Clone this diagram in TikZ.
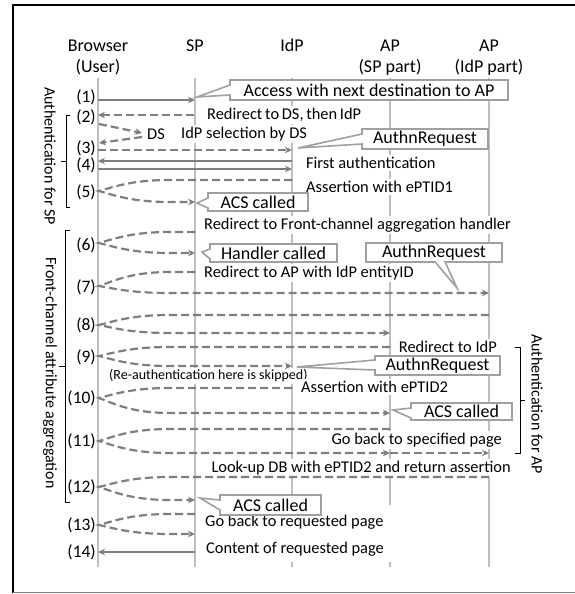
\documentclass[tikz,border=0pt]{standalone}
\usepackage{fontspec}
\setmainfont{Carlito}
\usetikzlibrary{shapes.callouts,arrows.meta,calc}
\definecolor{lifegray}{HTML}{BFBFBF}
\definecolor{arrgray}{HTML}{7F7F7F}
\definecolor{boxgray}{HTML}{A0A0A0}
\newcommand\myfs[1]{\fontsize{#1}{#1}\selectfont}
\newcommand\loopmsg[3]{%
  \draw[dashmsg] let \p1=(#1), \p2=(#2), \p3=(#3) in
    (#1) -- (170pt,\y1) .. controls (132pt,\y1) and (115pt,{\y3+0.4*(\y1-(\y3))}) .. (#3)
    .. controls (115pt,{\y3+0.4*(\y2-(\y3))}) and (132pt,\y2) .. (170pt,\y2) -- (#2);}
\begin{document}
\begin{tikzpicture}[x=1pt,y=-1pt,
  hdr/.style={font=\myfs{18}, inner sep=0pt, anchor=base},
  num/.style={anchor=east, font=\myfs{17.5}, inner sep=0pt},
  lbl/.style={fill=white, inner xsep=1pt, inner ysep=2pt, font=\myfs{16.4}},
  note/.style={lbl, font=\myfs{14}},
  cbox/.style={rectangle callout, draw=boxgray, line width=1.6pt, fill=white, inner sep=0pt,
    font=\myfs{18}, callout pointer width=10pt},
  life/.style={draw=lifegray, line width=2.6pt},
  solidmsg/.style={draw=arrgray, line width=2.2pt, -{Stealth[length=7pt,width=6.5pt]}},
  dashmsg/.style={solidmsg, dash pattern=on 8pt off 4pt},
  brk/.style={draw=black, line width=0.8pt},
  vlab/.style={rotate=-90, font=\myfs{16}, inner sep=0pt}]
\useasboundingbox (0,0) rectangle (575,594);
% frame
\draw[black, line width=2pt] (13,593) -- (13,5) -- (576,5);
\draw[gray, line width=1pt] (13,592.5) -- (576,592.5);

% headers
\node[hdr] (hB) at (98,52) {Browser};
\node[hdr] (hBu) at (98,73) {(User)};
\node[hdr] (hSP) at (195,52) {SP};
\node[hdr] (hIdP) at (292,52) {IdP};
\node[hdr] (hAS) at (390,52) {AP};
\node[hdr] (hASu) at (390,73) {(SP part)};
\node[hdr] (hAI) at (489,52) {AP};
\node[hdr] (hAIu) at (489,73) {(IdP part)};

% lifelines
\coordinate (Bt) at (98,78);   \coordinate (Bb) at (98,567);
\coordinate (St) at (195,78);  \coordinate (Sb) at (195,567);
\coordinate (It) at (292,78);  \coordinate (Im) at (292,505);
\coordinate (Ik) at (292,562); \coordinate (Ib) at (292,567);
\coordinate (Pt) at (390,78);  \coordinate (Pm) at (390,505);
\coordinate (Pk) at (390,562); \coordinate (Pb) at (390,567);
\coordinate (Qt) at (489,78);  \coordinate (Qb) at (489,567);
\draw[life] (Bt) -- (Bb);
\draw[life] (St) -- (Sb);
\draw[life] (It) -- (Im);
\draw[life] (Ik) -- (Ib);
\draw[life] (Pt) -- (Pm);
\draw[life] (Pk) -- (Pb);
\draw[life] (Qt) -- (Qb);

% labels
\node[lbl, anchor=west] (l2) at (206,115) {\makebox[154pt][s]{Redirect to DS, then IdP}};
\node[lbl] (ds) at (156,134) {DS};
\node[lbl, anchor=west] (lsel) at (180,134) {IdP selection by DS};
\node[lbl, anchor=west] (l4) at (305,163) {First authentication};
\node[lbl, anchor=west] (l5) at (305,187) {Assertion with ePTID1};
\node[lbl, anchor=west] (l6) at (203,225) {Redirect to Front-channel aggregation handler};
\node[lbl, anchor=west] (l7) at (203,273) {Redirect to AP with IdP entityID};
\node[lbl, anchor=east] (l9) at (498,347) {Redirect to IdP};
\node[note, anchor=west] (lskip) at (108,376) {(Re-authentication here is skipped)};
\node[lbl, anchor=west] (l10) at (300,387) {Assertion with ePTID2};
\node[lbl, anchor=east] (l11) at (503,440) {Go back to specified page};
\node[lbl, anchor=east] (l12) at (512,468) {Look-up DB with ePTID2 and return assertion};
\node[lbl, anchor=west] (l13) at (204,522) {Go back to requested page};
\node[lbl, anchor=west] (l14) at (205,549) {Content of requested page};

% step numbers
\node[num] (n1) at (96,97) {(1)};
\node[num] (n2) at (96,117) {(2)};
\node[num] (n3) at (96,148) {(3)};
\node[num] (n4) at (96,165) {(4)};
\node[num] (n5) at (96,192) {(5)};
\node[num] (n6) at (96,245) {(6)};
\node[num] (n7) at (96,287) {(7)};
\node[num] (n8) at (96,325) {(8)};
\node[num] (n9) at (96,357) {(9)};
\node[num] (n10) at (96,398) {(10)};
\node[num] (n11) at (96,441) {(11)};
\node[num] (n12) at (96,487) {(12)};
\node[num] (n13) at (96,525) {(13)};
\node[num] (n14) at (96,552) {(14)};

% message end points
\coordinate (m1s) at (98,100);  \coordinate (m1e) at (195,100);
\coordinate (m2s) at (194,115); \coordinate (m2e) at (98,115);
\coordinate (d1s) at (99,124);  \coordinate (d1e) at (142,133);
\coordinate (d2s) at (142,137); \coordinate (d2e) at (99,143);
\coordinate (m3s) at (98,150);  \coordinate (m3e) at (292,150);
\coordinate (m4as) at (292,161); \coordinate (m4ae) at (98,161);
\coordinate (m4bs) at (98,169); \coordinate (m4be) at (292,169);
\coordinate (m5s) at (292,180); \coordinate (m5t) at (99,191); \coordinate (m5e) at (195,202);
\coordinate (m6s) at (195,232); \coordinate (m6t) at (99,243); \coordinate (m6e) at (195,253);
\coordinate (m7s) at (195,272); \coordinate (m7t) at (99,286); \coordinate (m7e) at (489,293);
\coordinate (m8s) at (489,315); \coordinate (m8t) at (99,325); \coordinate (m8e) at (390,333);
\coordinate (m9s) at (390,347); \coordinate (m9t) at (99,356); \coordinate (m9e) at (292,366);
\coordinate (m10s) at (292,388); \coordinate (m10t) at (99,398); \coordinate (m10e) at (390,413);
\coordinate (m11s) at (390,429); \coordinate (m11t) at (99,441); \coordinate (m11e) at (390,453);
\coordinate (m11f) at (489,453);
\coordinate (m12s) at (489,477); \coordinate (m12t) at (99,487); \coordinate (m12e) at (195,500);
\coordinate (m13s) at (195,514); \coordinate (m13t) at (99,525); \coordinate (m13e) at (195,534);
\coordinate (m14s) at (195,552); \coordinate (m14e) at (98,552);

% messages
\draw[solidmsg] (m1s) -- (m1e);
\draw[dashmsg] (m2s) -- (m2e);
\draw[dashmsg] (d1s) -- (d1e);
\draw[dashmsg] (d2s) -- (d2e);
\draw[dashmsg] (m3s) -- (m3e);
\draw[solidmsg] (m4as) -- (m4ae);
\draw[solidmsg] (m4bs) -- (m4be);
\loopmsg{m5s}{m5e}{m5t}
\loopmsg{m6s}{m6e}{m6t}
\loopmsg{m7s}{m7e}{m7t}
\loopmsg{m8s}{m8e}{m8t}
\loopmsg{m9s}{m9e}{m9t}
\loopmsg{m10s}{m10e}{m10t}
\loopmsg{m11s}{m11e}{m11t}
\draw[dashmsg] (m11e) -- (m11f);
\loopmsg{m12s}{m12e}{m12t}
\loopmsg{m13s}{m13e}{m13t}
\draw[solidmsg] (m14s) -- (m14e);

% callouts
\coordinate (p1) at (197,97);
\coordinate (p2) at (298,148);
\coordinate (p3) at (197,203);
\coordinate (p4) at (202,252);
\coordinate (p5) at (457,288);
\coordinate (p6) at (297,367);
\coordinate (p7) at (393,410);
\coordinate (p8) at (200,498);
\node[cbox, minimum width=278pt, minimum height=20pt, callout absolute pointer={(p1)}] (c1) at (369,90) {Access with next destination to AP};
\node[cbox, minimum width=126pt, minimum height=20pt, callout absolute pointer={(p2)}] (c2) at (425,139) {AuthnRequest};
\node[cbox, minimum width=100pt, minimum height=18pt, callout absolute pointer={(p3)}] (c3) at (258,202) {ACS called};
\node[cbox, minimum width=127pt, minimum height=18pt, callout absolute pointer={(p4)}] (c4) at (273.5,253) {Handler called};
\node[cbox, minimum width=136pt, minimum height=19pt, callout absolute pointer={(p5)}] (c5) at (434,252.5) {AuthnRequest};
\node[cbox, minimum width=125pt, minimum height=19pt, callout absolute pointer={(p6)}] (c6) at (437.5,365.5) {AuthnRequest};
\node[cbox, minimum width=101pt, minimum height=17pt, callout absolute pointer={(p7)}] (c7) at (461.5,411.5) {ACS called};
\node[cbox, minimum width=101pt, minimum height=20pt, callout absolute pointer={(p8)}] (c8) at (270.5,505) {ACS called};

% brackets
\draw[brk] (70,115) -- (66,115) -- (66,207) -- (70,207);
\draw[brk] (66,161) -- (61,161);
\node[vlab] (v1) at (50,156) {Authentication for SP};
\draw[brk] (70,230) -- (65,230) -- (65,502) -- (70,502);
\draw[brk] (65,366) -- (59,366);
\node[vlab] (v2) at (50,373) {Front-channel attribute aggregation};
\draw[brk] (515,347) -- (520,347) -- (520,453) -- (515,453);
\draw[brk] (520,400) -- (525,400);
\node[vlab] (v3) at (537,404) {Authentication for AP};
\end{tikzpicture}
\end{document}
